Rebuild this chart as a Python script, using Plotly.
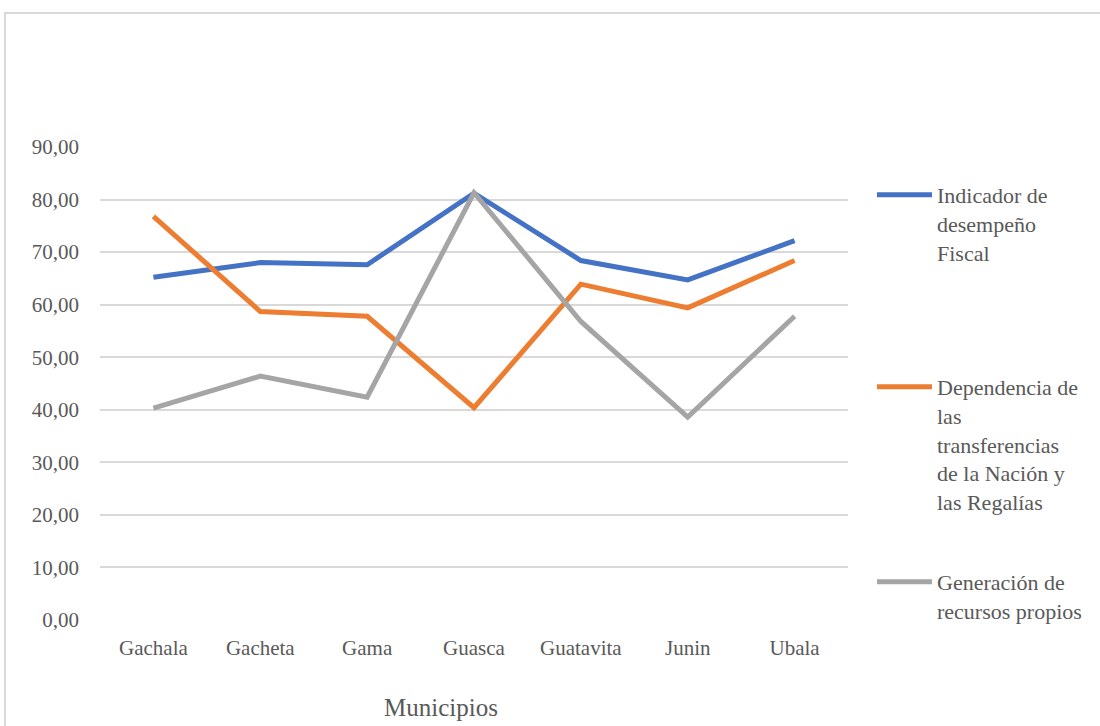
import plotly.graph_objects as go

municipios = ["Gachala", "Gacheta", "Gama", "Guasca", "Guatavita", "Junin", "Ubala"]
desempeno_fiscal = [65.2, 68.0, 67.6, 81.2, 68.4, 64.7, 72.2]
dependencia_transferencias = [76.8, 58.7, 57.8, 40.4, 63.9, 59.4, 68.4]
recursos_propios = [40.3, 46.4, 42.4, 81.3, 56.8, 38.6, 57.8]

series_names = [
    "Indicador de<br>desempeño<br>Fiscal",
    "Dependencia de<br>las<br>transferencias<br>de la Nación y<br>las Regalías",
    "Generación de<br>recursos propios",
]
series_values = [desempeno_fiscal, dependencia_transferencias, recursos_propios]
series_colors = ["#4472C4", "#ED7D31", "#A5A5A5"]
legend_ids = ["legend", "legend2", "legend3"]

FONT = "Liberation Serif"
TEXT = "#595959"

fig = go.Figure()
for name, vals, color, lg in zip(series_names, series_values, series_colors, legend_ids):
    fig.add_trace(go.Scatter(
        x=municipios, y=vals, name=name, mode="lines",
        line=dict(color=color, width=5),
        legend=lg,
    ))

# plot area spans px 100..848 horizontally and 147..620 vertically
L, R, T, B = 100, 252, 147, 106
W, H = 1100 - L - R, 726 - T - B

def px_x(p):
    return (p - L) / W

def px_y(p):
    return (726 - B - p) / H

legend_common = dict(
    font=dict(family=FONT, size=22, color=TEXT),
    bgcolor="rgba(0,0,0,0)", borderwidth=0,
    xanchor="left", yanchor="top", valign="top",
    itemwidth=55,
    itemclick=False, itemdoubleclick=False,
)

fig.update_layout(
    width=1100, height=726,
    margin=dict(l=L, r=R, t=T, b=B),
    paper_bgcolor="white", plot_bgcolor="white",
    separators=",.",
    font=dict(family=FONT, color=TEXT),
    showlegend=True,
    legend=dict(x=px_x(872), y=px_y(174), **legend_common),
    legend2=dict(x=px_x(872), y=px_y(366), **legend_common),
    legend3=dict(x=px_x(872), y=px_y(561), **legend_common),
    xaxis=dict(
        range=[-0.5, 6.5],
        showgrid=False, showline=False, zeroline=False,
        tickfont=dict(family=FONT, size=21, color=TEXT),
        ticks="", ticklabelstandoff=13,
    ),
    yaxis=dict(
        range=[0, 90], dtick=10, tickformat=".2f",
        showgrid=True, gridcolor="#D9D9D9", gridwidth=2,
        zeroline=False, showline=False, ticks="",
        tickfont=dict(family=FONT, size=21, color=TEXT),
        ticklabelstandoff=20,
    ),
    annotations=[dict(
        text="Municipios", xref="paper", yref="paper",
        x=px_x(441), y=px_y(707), xanchor="center", yanchor="middle",
        showarrow=False, font=dict(family=FONT, size=25, color=TEXT),
    )],
    shapes=[dict(
        type="rect", xref="paper", yref="paper",
        x0=px_x(5), x1=px_x(1110), y0=px_y(740), y1=px_y(13),
        line=dict(color="#D9D9D9", width=2), fillcolor="rgba(0,0,0,0)",
        layer="below",
    )],
)

fig.write_html("out.html")
